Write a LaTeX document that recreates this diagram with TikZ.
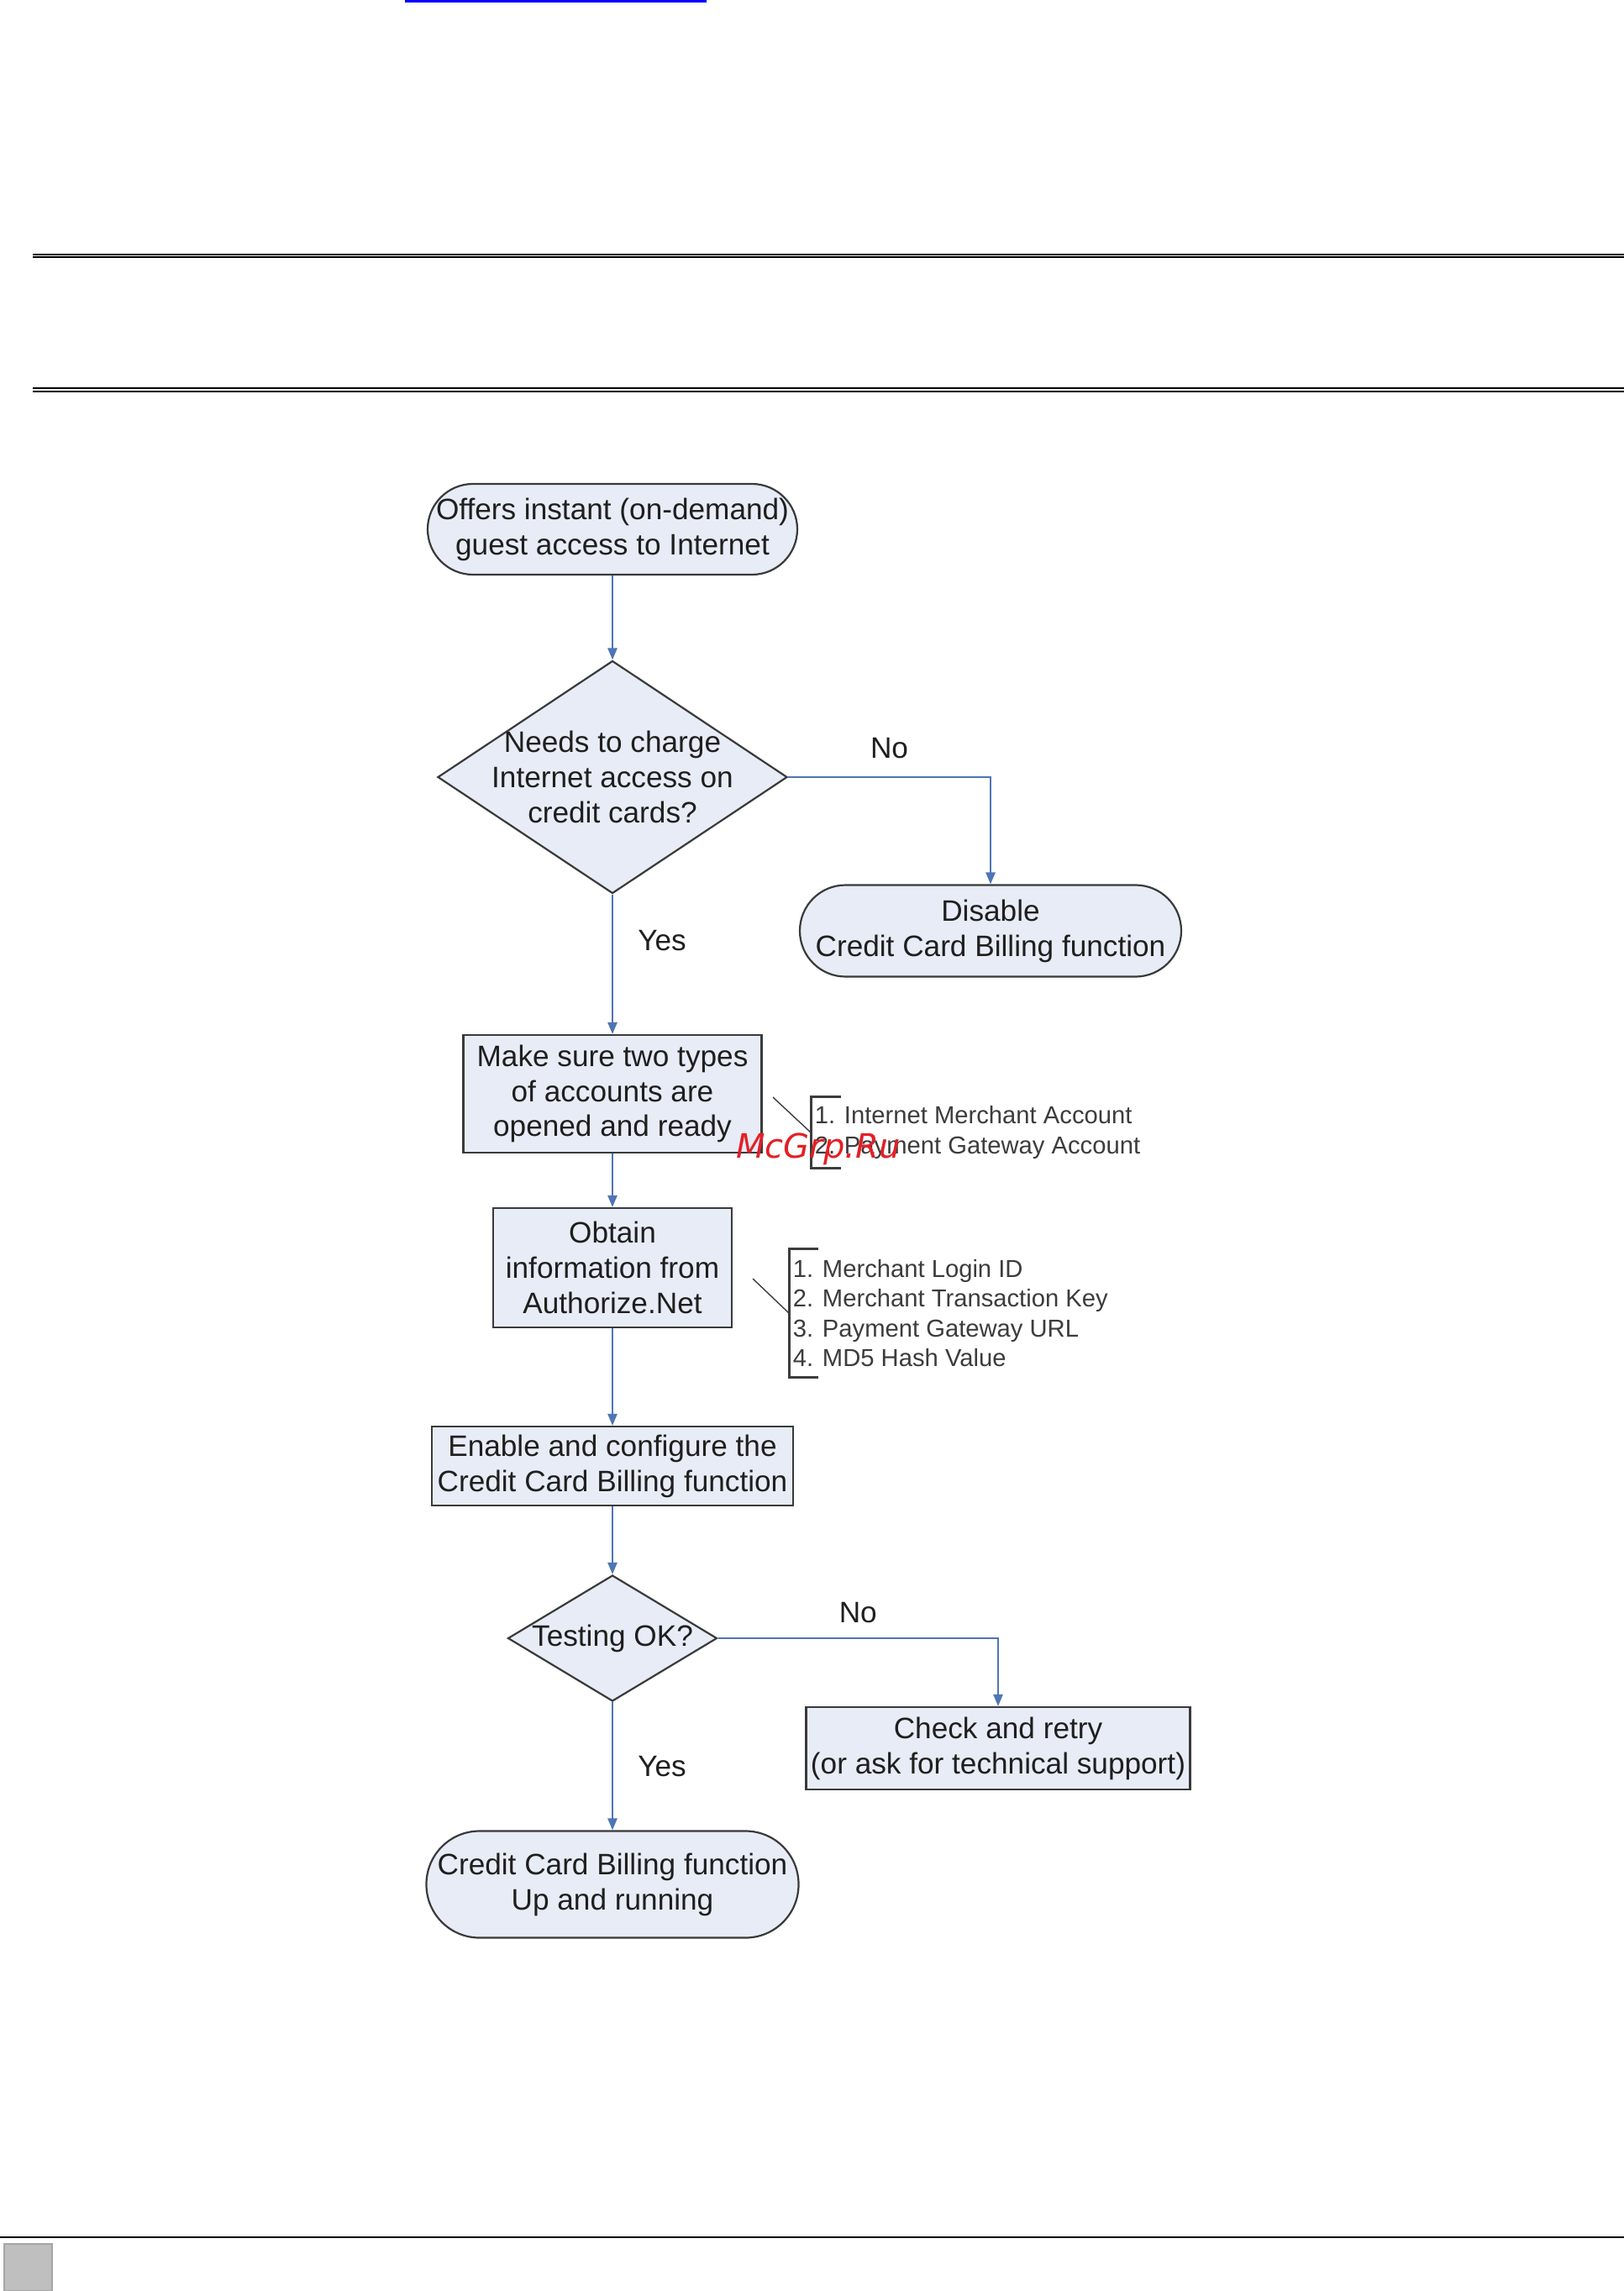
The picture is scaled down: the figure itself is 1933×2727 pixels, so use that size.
\documentclass[tikz,border=0pt]{standalone}
\usepackage{fontspec}
\setmainfont{Liberation Sans}
\newfontfamily\markfont{DejaVu Sans}
\usetikzlibrary{shapes.geometric,arrows.meta}

\definecolor{boxfill}{HTML}{E8ECF6}
\definecolor{boxline}{HTML}{3A3A3A}
\definecolor{flowblue}{HTML}{4F75B5}
\definecolor{notegray}{HTML}{3C3C3C}

\begin{document}
\begin{tikzpicture}[x=0.25pt,y=-0.25pt,
    chartfont/.style={text=black!88, font=\fontsize{8.8pt}{10.45pt}\selectfont},
    chart/.style={draw=boxline, fill=boxfill, line width=0.55pt, align=center,
      inner sep=0pt, chartfont},
    terminal/.style={chart, rectangle, rounded corners=#1},
    process/.style={chart, rectangle},
    decision/.style={draw=boxline, fill=boxfill, line width=0.55pt, diamond, inner sep=0pt,
      label={[chartfont, align=center, inner sep=0pt]center:#1}},
    flow/.style={draw=flowblue, line width=0.5pt, -{Triangle[length=3.5pt,width=2.8pt]}},
    answer/.style={chartfont},
    note/.style={align=left, anchor=west, inner xsep=1pt, inner ysep=0pt,
      text=notegray, font=\fontsize{7.3pt}{8.9pt}\selectfont},
    bracket/.style={draw=notegray, line width=0.75pt},
    leader/.style={draw=notegray, line width=0.35pt}]

  \useasboundingbox (0,0) rectangle (1933,2727);

  % page furniture
  \fill[blue] (482,0) rectangle (841,3);
  \fill (39,302) rectangle (1933,304);
  \fill (39,305.5) rectangle (1933,307.5);
  \fill (39,461) rectangle (1933,463);
  \fill (39,465) rectangle (1933,467);
  \fill (0,2662) rectangle (1933,2664);
  \filldraw[fill=black!25, draw=black!35, line width=0.3pt] (5,2671) rectangle (62,2727);

  % flowchart nodes
  \node[terminal=13.5pt, minimum width=110pt, minimum height=27pt] (start) at (729,630)
    {Offers instant (on-demand)\\guest access to Internet};
  \node[decision={Needs to charge\\Internet access on\\credit cards?},
    minimum width=104pt, minimum height=69.25pt] (charge) at (729,925) {};
  \node[terminal=13.6pt, minimum width=113.5pt, minimum height=27.25pt] (disable) at (1179,1108)
    {Disable\\Credit Card Billing function};
  \node[process, minimum width=88.75pt, minimum height=35pt] (accounts) at (729,1302)
    {Make sure two types\\of accounts are\\opened and ready};
  \node[process, minimum width=71pt, minimum height=35.5pt] (obtain) at (729,1509)
    {Obtain\\information from\\Authorize.Net};
  \node[process, minimum width=107.5pt, minimum height=23.5pt] (enable) at (729,1745)
    {Enable and configure the\\Credit Card Billing function};
  \node[decision={Testing OK?}, minimum width=62.25pt, minimum height=37.5pt]
    (testing) at (729,1950) {};
  \node[process, minimum width=114.25pt, minimum height=24.5pt] (retry) at (1188,2081)
    {Check and retry\\(or ask for technical support)};
  \node[terminal=15.8pt, minimum width=110.75pt, minimum height=31.75pt] (running) at (729,2243)
    {Credit Card Billing function\\Up and running};

  % connectors
  \draw[flow] (start) -- (charge);
  \draw[flow] (charge.east) -| node[answer, pos=0.25, above=2pt] {No} (disable.north);
  \draw[flow] (charge.south) -- node[answer, pos=0.33, right=4pt] {Yes} (accounts.north);
  \draw[flow] (accounts) -- (obtain);
  \draw[flow] (obtain) -- (enable);
  \draw[flow] (enable) -- (testing);
  \draw[flow] (testing.east) -| node[answer, pos=0.25, above=1pt] {No} (retry.north);
  \draw[flow] (testing.south) -- node[answer, pos=0.5, right=4pt] {Yes} (running.north);

  % side notes
  \node[note, minimum height=20.75pt] (accnote) at (965,1348)
    {1. Internet Merchant Account\\2. Payment Gateway Account};
  \coordinate (accfoot) at (920,1306);
  \draw[bracket] ([xshift=9pt]accnote.north west) -- (accnote.north west)
    -- (accnote.south west) -- ++(9pt,0);
  \draw[leader] (accfoot) -- (accnote.west);

  \node[note, minimum height=38pt] (infonote) at (939,1563)
    {1. Merchant Login ID\\2. Merchant Transaction Key\\3. Payment Gateway URL\\4. MD5 Hash Value};
  \coordinate (infofoot) at (896,1522);
  \draw[bracket] ([xshift=8.75pt]infonote.north west) -- (infonote.north west)
    -- (infonote.south west) -- ++(8.75pt,0);
  \draw[leader] (infofoot) -- (infonote.west);

  % watermark
  \node[text={rgb,255:red,226;green,32;blue,38}, font=\markfont\itshape\fontsize{10pt}{12pt}\selectfont,
    inner sep=0pt] (mark) at (974,1368) {McGrp.Ru};
\end{tikzpicture}
\end{document}
